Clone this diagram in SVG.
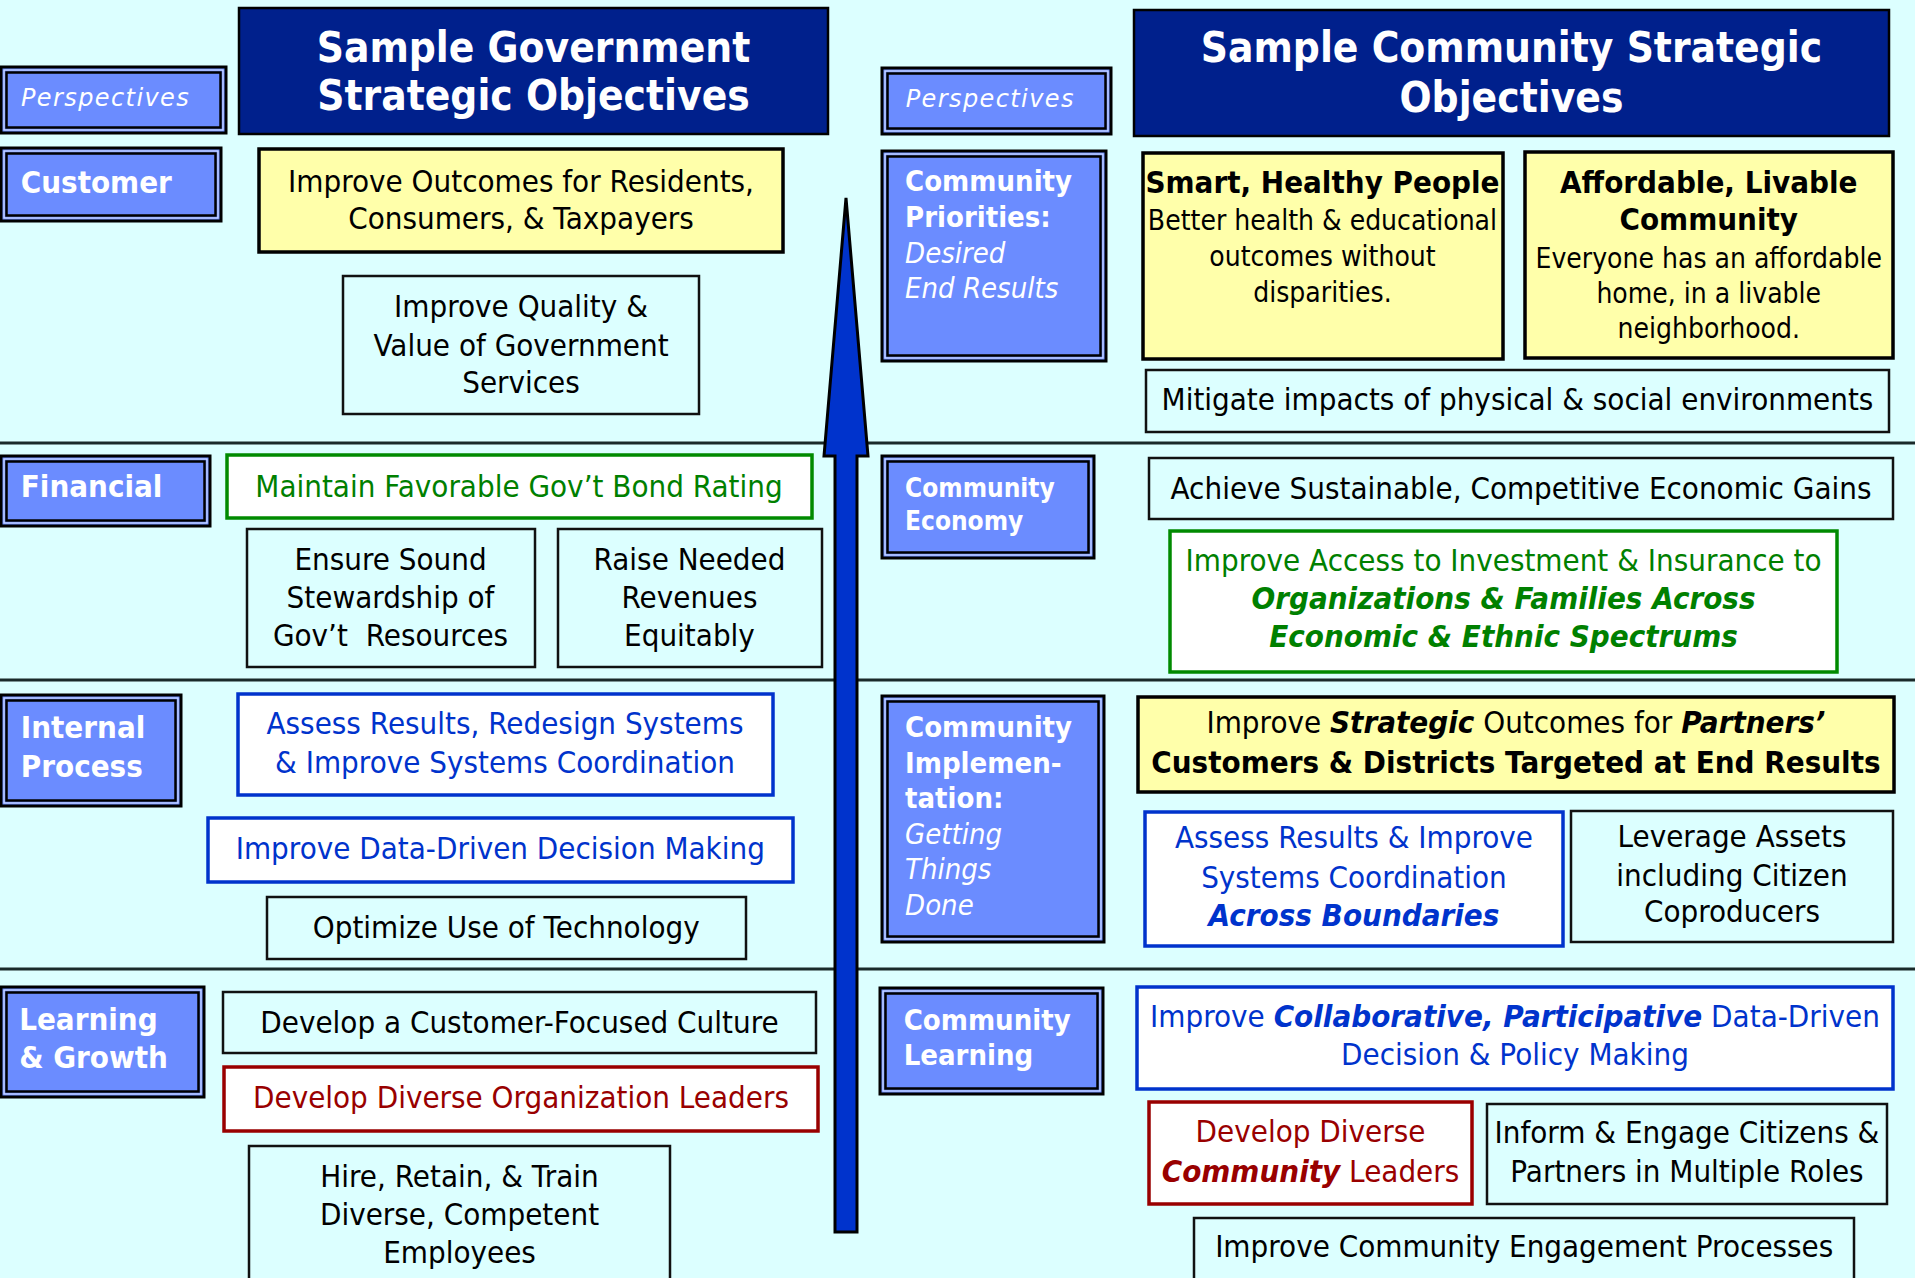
<svg xmlns="http://www.w3.org/2000/svg" width="1915" height="1278" viewBox="0 0 1915 1278">
<style>
text { font-family: "DejaVu Sans", "Liberation Sans", sans-serif; }
.t { font-size: 31px; fill: #000; text-anchor: middle; }
.s28 { font-size: 28px; }
.hd { font-size: 42px; font-weight: bold; fill: #fff; text-anchor: middle; }
.lb { font-size: 31px; font-weight: bold; fill: #fff; }
.lc { font-size: 29px; font-weight: bold; fill: #fff; }
.ls { font-size: 26px; font-weight: bold; fill: #fff; }
.ps { font-size: 24px; font-style: italic; fill: #fff; letter-spacing: 1.4px; }
.bi { font-weight: bold; font-style: italic; }
.it { font-style: italic; font-weight: normal; }
.bd { font-weight: bold; }
.blue { fill: #0033cc; }
.green { fill: #008000; }
.red { fill: #990000; }
.box { fill: none; stroke: #111; stroke-width: 2.5; }
.yel { fill: #ffffaa; stroke: #000; stroke-width: 3.5; }
.wg { fill: #fff; stroke: #008a00; stroke-width: 3.5; }
.wb { fill: #fff; stroke: #0033cc; stroke-width: 3.5; }
.wr { fill: #fff; stroke: #990000; stroke-width: 3.5; }
.l1 { fill: #6b8cff; stroke: #000; stroke-width: 3; }
.l2 { fill: none; stroke: #e0e8ff; stroke-width: 1; }
.l3 { fill: none; stroke: #000; stroke-width: 2.5; }
.hdr { fill: #00208c; stroke: #000; stroke-width: 2.5; }
.sep { stroke: #1a2a2a; stroke-width: 3; }
</style>
<rect x="0" y="0" width="1915" height="1278" fill="#dcffff"/>

<g id="separators">
  <line class="sep" x1="0" y1="443" x2="1915" y2="443"/>
  <line class="sep" x1="0" y1="680" x2="1915" y2="680"/>
  <line class="sep" x1="0" y1="969" x2="1915" y2="969"/>
</g>

<!-- LEFT SIDE -->
<g id="persp-left">
  <rect class="l1" x="1" y="67" width="225" height="66"/>
  <rect class="l2" x="4" y="70" width="219" height="60"/>
  <rect class="l3" x="6.5" y="72.5" width="214" height="55"/>
  <text class="ps" x="21" y="106">Perspectives</text>
</g>
<g id="header-gov">
  <rect class="hdr" x="239" y="8" width="589" height="126"/>
  <g transform="scale(0.9 1)">
    <text class="hd" x="592.8" y="61.7">Sample Government</text>
    <text class="hd" x="592.8" y="110">Strategic Objectives</text>
  </g>
</g>
<g id="lbl-customer">
  <rect class="l1" x="1" y="148" width="220" height="73"/>
  <rect class="l2" x="4" y="151" width="214" height="67"/>
  <rect class="l3" x="6.5" y="153.5" width="209" height="62"/>
  <g transform="scale(0.9 1)"><text class="lb" x="23" y="192.7">Customer</text></g>
</g>
<g id="improve-outcomes">
  <rect class="yel" x="259" y="149" width="524" height="103"/>
  <g transform="scale(0.9 1)">
    <text class="t" x="578.9" y="192">Improve Outcomes for Residents,</text>
    <text class="t" x="578.9" y="229">Consumers, &amp; Taxpayers</text>
  </g>
</g>
<g id="improve-quality">
  <rect class="box" x="343" y="276" width="356" height="138"/>
  <g transform="scale(0.9 1)">
    <text class="t" x="578.9" y="317">Improve Quality &amp;</text>
    <text class="t" x="578.9" y="356">Value of Government</text>
    <text class="t" x="578.9" y="393">Services</text>
  </g>
</g>
<g id="lbl-financial">
  <rect class="l1" x="1" y="456" width="209" height="70"/>
  <rect class="l2" x="4" y="459" width="203" height="64"/>
  <rect class="l3" x="6.5" y="461.5" width="198" height="59"/>
  <g transform="scale(0.9 1)"><text class="lb" x="23.1" y="497">Financial</text></g>
</g>
<g id="bond-rating">
  <rect class="wg" x="227" y="455" width="585" height="63"/>
  <g transform="scale(0.9 1)"><text class="t green" x="576.7" y="497">Maintain Favorable Gov’t Bond Rating</text></g>
</g>
<g id="stewardship">
  <rect class="box" x="247" y="529" width="288" height="138"/>
  <g transform="scale(0.9 1)">
    <text class="t" x="433.9" y="570">Ensure Sound</text>
    <text class="t" x="433.9" y="608">Stewardship of</text>
    <text class="t" x="433.9" y="646" xml:space="preserve">Gov’t  Resources</text>
  </g>
</g>
<g id="revenues">
  <rect class="box" x="558" y="529" width="264" height="138"/>
  <g transform="scale(0.9 1)">
    <text class="t" x="766.1" y="570">Raise Needed</text>
    <text class="t" x="766.1" y="608">Revenues</text>
    <text class="t" x="766.1" y="646">Equitably</text>
  </g>
</g>
<g id="lbl-internal">
  <rect class="l1" x="1" y="695" width="180" height="111"/>
  <rect class="l2" x="4" y="698" width="174" height="105"/>
  <rect class="l3" x="6.5" y="700.5" width="169" height="100"/>
  <g transform="scale(0.9 1)">
    <text class="lb" x="23.1" y="738">Internal</text>
    <text class="lb" x="23.1" y="777.5">Process</text>
  </g>
</g>
<g id="assess-redesign">
  <rect class="wb" x="238" y="694" width="535" height="101"/>
  <g transform="scale(0.9 1)">
    <text class="t blue" x="561.1" y="734.5">Assess Results, Redesign Systems</text>
    <text class="t blue" x="561.1" y="773">&amp; Improve Systems Coordination</text>
  </g>
</g>
<g id="data-driven">
  <rect class="wb" x="208" y="818" width="585" height="64"/>
  <g transform="scale(0.9 1)"><text class="t blue" x="555.9" y="859">Improve Data-Driven Decision Making</text></g>
</g>
<g id="technology">
  <rect class="box" x="267" y="897" width="479" height="62"/>
  <g transform="scale(0.9 1)"><text class="t" x="562.5" y="938.5">Optimize Use of Technology</text></g>
</g>
<g id="lbl-learning">
  <rect class="l1" x="1" y="987" width="203" height="110"/>
  <rect class="l2" x="4" y="990" width="197" height="104"/>
  <rect class="l3" x="6.5" y="992.5" width="192" height="99"/>
  <g transform="scale(0.9 1)">
    <text class="lb" x="21.3" y="1030">Learning</text>
    <text class="lb" x="21.3" y="1068">&amp; Growth</text>
  </g>
</g>
<g id="customer-culture">
  <rect class="box" x="223" y="992" width="593" height="61"/>
  <g transform="scale(0.9 1)"><text class="t" x="577.2" y="1032.7">Develop a Customer-Focused Culture</text></g>
</g>
<g id="org-leaders">
  <rect class="wr" x="224" y="1067" width="594" height="64"/>
  <g transform="scale(0.9 1)"><text class="t red" x="578.9" y="1108">Develop Diverse Organization Leaders</text></g>
</g>
<g id="hire">
  <rect class="box" x="249" y="1146" width="421" height="140"/>
  <g transform="scale(0.9 1)">
    <text class="t" x="510.6" y="1186.7">Hire, Retain, &amp; Train</text>
    <text class="t" x="510.6" y="1225">Diverse, Competent</text>
    <text class="t" x="510.6" y="1262.7">Employees</text>
  </g>
</g>

<!-- RIGHT SIDE -->
<g id="persp-right">
  <rect class="l1" x="882" y="68" width="229" height="66"/>
  <rect class="l2" x="885" y="71" width="223" height="60"/>
  <rect class="l3" x="887.5" y="73.5" width="218" height="55"/>
  <text class="ps" x="905.7" y="106.7">Perspectives</text>
</g>
<g id="header-community">
  <rect class="hdr" x="1134" y="10" width="755" height="126"/>
  <g transform="scale(0.9 1)">
    <text class="hd" x="1679.4" y="61.7">Sample Community Strategic</text>
    <text class="hd" x="1679.4" y="111.7">Objectives</text>
  </g>
</g>
<g id="lbl-priorities">
  <rect class="l1" x="882" y="151" width="224" height="210"/>
  <rect class="l2" x="885" y="154" width="218" height="204"/>
  <rect class="l3" x="887.5" y="156.5" width="213" height="199"/>
  <g transform="scale(0.9 1)">
    <text class="lc" x="1005.6" y="191">Community</text>
    <text class="lc" x="1005.6" y="227">Priorities:</text>
    <text class="lc it" x="1005.6" y="263">Desired</text>
    <text class="lc it" x="1005.6" y="298">End Results</text>
  </g>
</g>
<g id="smart-healthy">
  <rect class="yel" x="1143" y="153" width="360" height="206"/>
  <g transform="scale(0.9 1)">
    <text class="t bd" x="1469.4" y="193.3">Smart, Healthy People</text>
    <text class="t s28" x="1469.4" y="230">Better health &amp; educational</text>
    <text class="t s28" x="1469.4" y="265.7">outcomes without</text>
    <text class="t s28" x="1469.4" y="301.7">disparities.</text>
  </g>
</g>
<g id="affordable">
  <rect class="yel" x="1525" y="152" width="368" height="206"/>
  <g transform="scale(0.9 1)">
    <text class="t bd" x="1898.6" y="192.7">Affordable, Livable</text>
    <text class="t bd" x="1898.6" y="230">Community</text>
    <text class="t s28" x="1898.6" y="268">Everyone has an affordable</text>
    <text class="t s28" x="1898.6" y="303">home, in a livable</text>
    <text class="t s28" x="1898.6" y="337.7">neighborhood.</text>
  </g>
</g>
<g id="mitigate">
  <rect class="box" x="1146" y="370" width="743" height="62"/>
  <g transform="scale(0.9 1)"><text class="t" x="1686.1" y="410">Mitigate impacts of physical &amp; social environments</text></g>
</g>
<g id="lbl-economy">
  <rect class="l1" x="882" y="456" width="212" height="102"/>
  <rect class="l2" x="885" y="459" width="206" height="96"/>
  <rect class="l3" x="887.5" y="461.5" width="201" height="91"/>
  <g transform="scale(0.9 1)">
    <text class="ls" x="1005.6" y="497">Community</text>
    <text class="ls" x="1005.6" y="530">Economy</text>
  </g>
</g>
<g id="economic-gains">
  <rect class="box" x="1149" y="458" width="744" height="61"/>
  <g transform="scale(0.9 1)"><text class="t" x="1690" y="499">Achieve Sustainable, Competitive Economic Gains</text></g>
</g>
<g id="investment-access">
  <rect class="wg" x="1170" y="531" width="667" height="141"/>
  <g transform="scale(0.9 1)">
    <text class="t green" x="1670.6" y="571">Improve Access to Investment &amp; Insurance to</text>
    <text class="t green bi" x="1670.6" y="609">Organizations &amp; Families Across</text>
    <text class="t green bi" x="1670.6" y="647">Economic &amp; Ethnic Spectrums</text>
  </g>
</g>
<g id="lbl-implementation">
  <rect class="l1" x="882" y="696" width="222" height="246"/>
  <rect class="l2" x="885" y="699" width="216" height="240"/>
  <rect class="l3" x="887.5" y="701.5" width="211" height="235"/>
  <g transform="scale(0.9 1)">
    <text class="lc" x="1005.6" y="737.5">Community</text>
    <text class="lc" x="1005.6" y="773">Implemen-</text>
    <text class="lc" x="1005.6" y="808.5">tation:</text>
    <text class="lc it" x="1005.6" y="844">Getting</text>
    <text class="lc it" x="1005.6" y="879.5">Things</text>
    <text class="lc it" x="1005.6" y="915">Done</text>
  </g>
</g>
<g id="strategic-outcomes">
  <rect class="yel" x="1138" y="697" width="756" height="95"/>
  <g transform="scale(0.9 1)">
    <text class="t" x="1684.4" y="733">Improve <tspan class="bi">Strategic</tspan> Outcomes for <tspan class="bi">Partners’</tspan></text>
    <text class="t bd" x="1684.4" y="772.7">Customers &amp; Districts Targeted at End Results</text>
  </g>
</g>
<g id="assess-boundaries">
  <rect class="wb" x="1145" y="812" width="418" height="134"/>
  <g transform="scale(0.9 1)">
    <text class="t blue" x="1504.4" y="848.5">Assess Results &amp; Improve</text>
    <text class="t blue" x="1504.4" y="888">Systems Coordination</text>
    <text class="t blue bi" x="1504.4" y="926">Across Boundaries</text>
  </g>
</g>
<g id="leverage-assets">
  <rect class="box" x="1571" y="811" width="322" height="131"/>
  <g transform="scale(0.9 1)">
    <text class="t" x="1924.4" y="846.7">Leverage Assets</text>
    <text class="t" x="1924.4" y="886">including Citizen</text>
    <text class="t" x="1924.4" y="922.5">Coproducers</text>
  </g>
</g>
<g id="lbl-community-learning">
  <rect class="l1" x="880" y="988" width="223" height="106"/>
  <rect class="l2" x="883" y="991" width="217" height="100"/>
  <rect class="l3" x="885.5" y="993.5" width="212" height="95"/>
  <g transform="scale(0.9 1)">
    <text class="lc" x="1004.1" y="1030">Community</text>
    <text class="lc" x="1004.1" y="1065">Learning</text>
  </g>
</g>
<g id="collaborative">
  <rect class="wb" x="1137" y="987" width="756" height="102"/>
  <g transform="scale(0.9 1)">
    <text class="t blue" x="1683.3" y="1026.7">Improve <tspan class="bi">Collaborative, Participative</tspan> Data-Driven</text>
    <text class="t blue" x="1683.3" y="1065">Decision &amp; Policy Making</text>
  </g>
</g>
<g id="community-leaders">
  <rect class="wr" x="1149" y="1102" width="323" height="102"/>
  <g transform="scale(0.9 1)">
    <text class="t red" x="1456.1" y="1141.7">Develop Diverse</text>
    <text class="t red" x="1456.1" y="1181.7"><tspan class="bi">Community</tspan> Leaders</text>
  </g>
</g>
<g id="inform-engage">
  <rect class="box" x="1487" y="1104" width="400" height="100"/>
  <g transform="scale(0.9 1)">
    <text class="t" x="1874.4" y="1143">Inform &amp; Engage Citizens &amp;</text>
    <text class="t" x="1874.4" y="1181.7">Partners in Multiple Roles</text>
  </g>
</g>
<g id="engagement-processes">
  <rect class="box" x="1194" y="1218" width="660" height="70"/>
  <g transform="scale(0.9 1)"><text class="t" x="1693.6" y="1256.7">Improve Community Engagement Processes</text></g>
</g>

<g id="connectors">
  <polygon points="846,198 868,456 857,456 857,1232 835,1232 835,456 824,456" fill="#0033cc" stroke="#000" stroke-width="3" stroke-linejoin="miter"/>
</g>
</svg>
